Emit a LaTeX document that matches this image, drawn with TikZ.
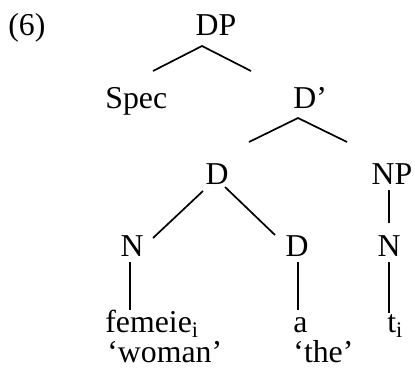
\documentclass[tikz,border=0pt]{standalone}
\usepackage{fontspec}
\setmainfont{Liberation Serif}
\begin{document}
\begin{tikzpicture}[x=0.5pt,y=-0.5pt,
  lbl/.style={inner sep=0pt, anchor=base west, font=\fontsize{15.9}{18}\selectfont},
  lblc/.style={lbl, anchor=base},
  branch/.style={line width=0.85pt}]
\useasboundingbox (0,0) rectangle (415,369);

% example number
\node[lbl] (num) at (8,36) {(6)};

% tree labels
\node[lblc] (dp)    at (216,36)  {DP};
\node[lbl]  (spec)  at (105,108) {Spec};
\node[lbl]  (dbar)  at (293,108) {D’};
\node[lblc] (dhead) at (217,184) {D};
\node[lblc] (np)    at (392,184) {NP};
\node[lblc] (nleft) at (132,256) {N};
\node[lblc] (dlow)  at (297,256) {D};
\node[lblc] (nright) at (389,256) {N};

% terminals and glosses
\node[lbl] (femeie) at (105,332) {femeie\textsubscript{i}};
\node[lbl] (art)    at (293,332) {a};
\node[lbl] (trace)  at (387,332) {t\textsubscript{i}};
\node[lbl] (woman)  at (107,362) {‘woman’};
\node[lbl] (the)    at (293,362) {‘the’};

% branch end points
\coordinate (dp-b)     at (202,46);
\coordinate (spec-t)   at (153,71);
\coordinate (dbar-t)   at (251,71);
\coordinate (dbar-b)   at (298,118);
\coordinate (dhead-t)  at (249,142);
\coordinate (np-t)     at (347,142);
\coordinate (dhead-bl) at (203,191);
\coordinate (dhead-br) at (225,187);
\coordinate (nleft-t)  at (153,238);
\coordinate (dlow-t)   at (275,235);
\coordinate (np-b)     at (389,190);
\coordinate (nright-t) at (389,223);
\coordinate (nleft-b)  at (130,262);
\coordinate (femeie-t) at (130,310);
\coordinate (dlow-b)   at (298,262);
\coordinate (art-t)    at (298,310);
\coordinate (nright-b) at (389,262);
\coordinate (trace-t)  at (389,313);

% branches
\draw[branch] (spec-t) -- (dp-b) -- (dbar-t);
\draw[branch] (dhead-t) -- (dbar-b) -- (np-t);
\draw[branch] (dhead-bl) -- (nleft-t);
\draw[branch] (dhead-br) -- (dlow-t);
\draw[branch] (np-b) -- (nright-t);
\draw[branch] (nleft-b) -- (femeie-t);
\draw[branch] (dlow-b) -- (art-t);
\draw[branch] (nright-b) -- (trace-t);
\end{tikzpicture}
\end{document}
